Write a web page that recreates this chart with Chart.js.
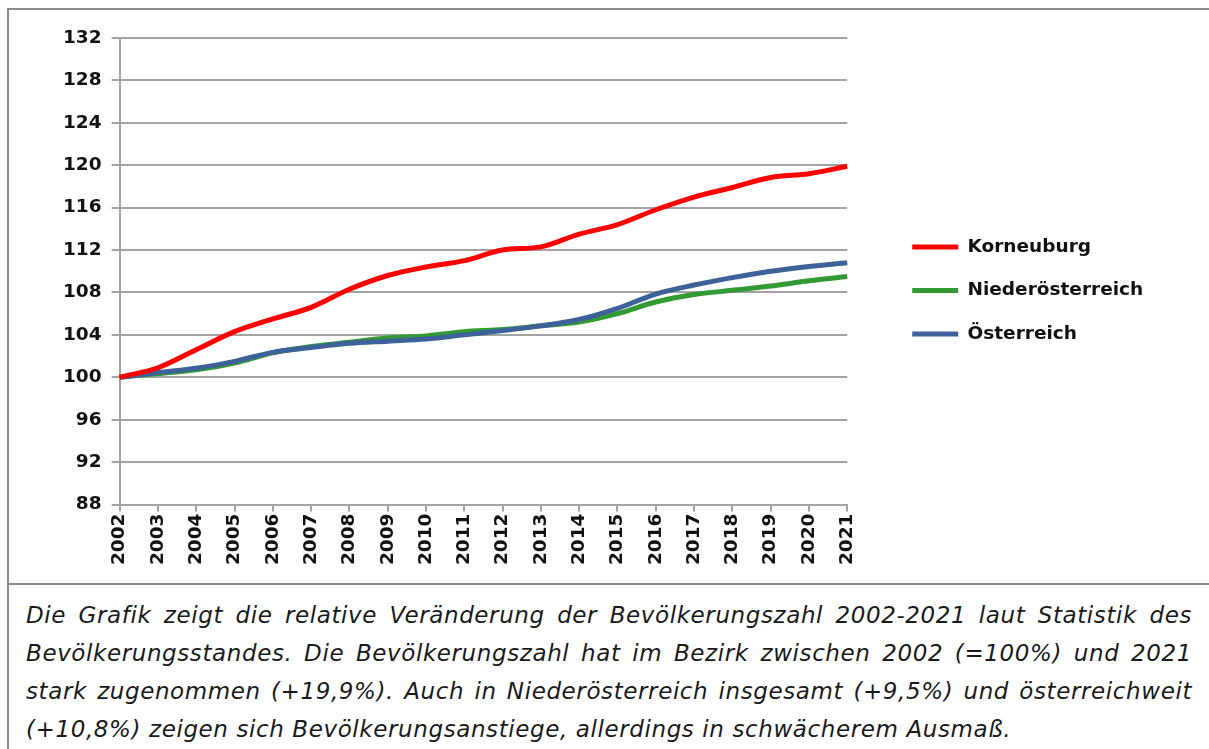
<!DOCTYPE html>
<html lang="de">
<head>
<meta charset="utf-8">
<title>Bevölkerungsentwicklung Korneuburg 2002-2021</title>
<script src="https://cdn.jsdelivr.net/npm/chart.js@4.4.1/dist/chart.umd.min.js"></script>
<style>
    html, body { margin: 0; padding: 0; background: #fff; }
    body { width: 1209px; height: 749px; position: relative; overflow: hidden; font-family: "DejaVu Sans", Verdana, sans-serif; }
    /* outer frame: left + top border, separator under the chart */
    .frame { position: absolute; left: 7px; top: 8px; right: 0; bottom: 0; border-left: 2px solid #8c8c8c; border-top: 2px solid #8c8c8c; }
    .sep { position: absolute; left: 7px; right: 0; top: 583px; height: 0; border-top: 2px solid #8c8c8c; }
    #chart-box { position: absolute; left: 10px; top: 10px; width: 1199px; height: 572px; }
    .caption { position: absolute; left: 26px; top: 596px; width: 1166px; font-style: italic; font-size: 23px; letter-spacing: 0.6px; line-height: 38px; color: #1a1a1a; text-align: justify; }
</style>
</head>
<body>
<div class="frame"></div>
<div class="sep"></div>
<div id="chart-box"><canvas id="pop-chart"></canvas></div>
<div class="caption">Die Grafik zeigt die relative Veränderung der Bevölkerungszahl 2002-2021 laut Statistik des Bevölkerungsstandes. Die Bevölkerungszahl hat im Bezirk zwischen 2002 (=100%) und 2021 stark zugenommen (+19,9%). Auch in Niederösterreich insgesamt (+9,5%) und österreichweit (+10,8%) zeigen sich Bevölkerungsanstiege, allerdings in schwächerem Ausmaß.</div>

<script>
// Data (2002 = 100)
const years = ['2002', '2003', '2004', '2005', '2006', '2007', '2008', '2009', '2010', '2011',
               '2012', '2013', '2014', '2015', '2016', '2017', '2018', '2019', '2020', '2021'];
const korneuburg = [100, 100.9, 102.6, 104.3, 105.5, 106.6, 108.3, 109.6, 110.4, 111.0,
                    112.0, 112.3, 113.5, 114.4, 115.8, 117.0, 117.9, 118.85, 119.2, 119.9];
const niederoesterreich = [100, 100.35, 100.7, 101.35, 102.3, 102.9, 103.3, 103.7, 103.9, 104.3,
                           104.5, 104.85, 105.2, 106.0, 107.1, 107.8, 108.2, 108.6, 109.1, 109.5];
const oesterreich = [100, 100.45, 100.85, 101.5, 102.35, 102.8, 103.2, 103.4, 103.6, 104.0,
                     104.4, 104.85, 105.45, 106.5, 107.85, 108.7, 109.4, 110.0, 110.45, 110.8];

const labelFont = { family: '"DejaVu Sans", Verdana, sans-serif', size: 18.5, weight: 'bold' };
const gridColor = '#a3a3a3';

// push the legend a bit right and up, like in the original
const moveLegend = {
    id: 'moveLegend',
    afterLayout(chart) {
        const lg = chart.legend;
        lg.left += 40;
        lg.right += 40;
        lg.top -= 12;
        lg.bottom -= 12;
    }
};

function makeLine(label, data, color, order) {
    return {
        label: label,
        data: data,
        borderColor: color,
        backgroundColor: color,
        borderWidth: 5,
        pointRadius: 0,
        cubicInterpolationMode: 'monotone',
        fill: false,
        order: order
    };
}

const ctx = document.getElementById('pop-chart').getContext('2d');
window.popChart = new Chart(ctx, {
    type: 'line',
    data: {
        labels: years,
        datasets: [
            makeLine('Korneuburg', korneuburg, '#ff0000', 0),
            makeLine('Niederösterreich', niederoesterreich, '#339a33', 2),
            makeLine('Österreich', oesterreich, '#3d6199', 1)
        ]
    },
    options: {
        responsive: true,
        maintainAspectRatio: false,
        animation: false,
        layout: {
            padding: { left: 43, top: 28, right: 97, bottom: 15 }
        },
        scales: {
            x: {
                offset: false,
                grid: { display: true, drawOnChartArea: false, color: gridColor, lineWidth: 2, tickLength: 7 },
                border: { color: gridColor, width: 2 },
                ticks: { autoSkip: false, minRotation: 90, maxRotation: 90, padding: 2, color: '#111', font: labelFont }
            },
            y: {
                min: 88,
                max: 132,
                grid: { color: gridColor, lineWidth: 2, tickLength: 8 },
                border: { color: gridColor, width: 2 },
                ticks: { stepSize: 4, padding: 10, color: '#111', font: labelFont }
            }
        },
        plugins: {
            legend: {
                position: 'right',
                labels: {
                    usePointStyle: true,
                    pointStyle: 'line',
                    pointStyleWidth: 46,
                    padding: 25,
                    color: '#111',
                    font: labelFont,
                    sort: (a, b) => a.datasetIndex - b.datasetIndex
                }
            },
            tooltip: { enabled: false }
        }
    },
    plugins: [moveLegend]
});
</script>
</body>
</html>
